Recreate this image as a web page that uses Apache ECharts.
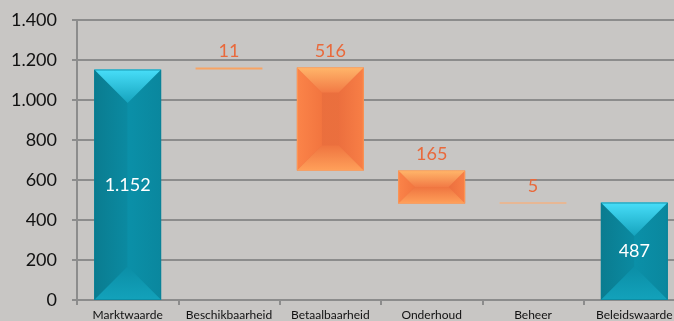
<!DOCTYPE html>
<html>
<head>
<meta charset="utf-8">
<script src="https://cdn.jsdelivr.net/npm/echarts@6/dist/echarts.min.js"></script>
<style>
html,body{margin:0;padding:0;background:#c8c6c4;}
#c{width:674px;height:321px;}
</style>
</head>
<body>
<div id="c"></div>
<script>
var categories = ['Marktwaarde','Beschikbaarheid','Betaalbaarheid','Onderhoud','Beheer','Beleidswaarde'];
var startValue = 1152;
var deltas = [11, -516, -165, 5];
var endValue = 487;
var yTicks = {min: 0, max: 1400, interval: 200};

function nl(v){ return String(Math.round(v)).replace(/\B(?=(\d{3})+(?!\d))/g, '.'); }

// build [index, low, high, kind, labelValue]
var rows = [];
rows.push([0, 0, startValue, 0, startValue]);
var cum = startValue;
deltas.forEach(function(d, i){
  var a = cum, b = cum + d;
  rows.push([i + 1, Math.min(a, b), Math.max(a, b), 1, Math.abs(d)]);
  cum = b;
});
rows.push([categories.length - 1, 0, endValue, 0, endValue]);

function lg(x1,y1,x2,y2,c1,c2){
  return new echarts.graphic.LinearGradient(x1,y1,x2,y2,[{offset:0,color:c1},{offset:1,color:c2}]);
}

var palettes = {
  0: {top:lg(0,0,0,1,'#48def9','#15a3bd'), bottom:lg(0,0,0,1,'#0b8ea6','#13a2bb'),
      left:lg(0,0,1,0,'#0a7c90','#0b8aa1'), right:lg(0,0,1,0,'#0b90a8','#0a879e'),
      center:lg(0,0,1,0,'#0a8aa2','#0b92aa'), edge:'#0a7f95'},
  1: {top:lg(0,0,0,1,'#ffb66a','#f27a45'), bottom:lg(0,0,0,1,'#ef7540','#ffa05a'),
      left:lg(0,0,1,0,'#fb8449','#f2753f'), right:lg(0,0,1,0,'#ec6f3e','#f87f46'),
      center:lg(0,0,1,0,'#ea6e3d','#eb703e'), edge:'#ffa660'}
};

function renderItem(params, api){
  var idx = api.value(0), low = api.value(1), high = api.value(2), kind = api.value(3), lab = api.value(4);
  var pT = api.coord([idx, high]), pB = api.coord([idx, low]);
  var bw = api.size([1, 0])[0] * 0.66;
  var x0 = pT[0] - bw/2, x1 = x0 + bw, y0 = pT[1], y1 = pB[1], h = y1 - y0;
  var pal = palettes[kind];
  var children = [];
  if (h < 4) {
    var hh = Math.max(h, 1.5);
    children.push({type:'rect', shape:{x:x0, y:y0 - (hh - h)/2, width:bw, height:hh},
      style:{fill: lab > 8 ? '#f8a464' : '#f2b285'}});
  } else {
    var d = kind === 0 ? Math.min(bw/2, h/2) : Math.min(25, bw/2, h/2);
    children.push({type:'rect', shape:{x:x0, y:y0, width:bw, height:h}, style:{fill:pal.center}});
    children.push({type:'polygon', shape:{points:[[x0,y0],[x0+d,y0+d],[x0+d,y1-d],[x0,y1]]}, style:{fill:pal.left}});
    children.push({type:'polygon', shape:{points:[[x1,y0],[x1-d,y0+d],[x1-d,y1-d],[x1,y1]]}, style:{fill:pal.right}});
    children.push({type:'polygon', shape:{points:[[x0,y0],[x1,y0],[x1-d,y0+d],[x0+d,y0+d]]}, style:{fill:pal.top}});
    children.push({type:'polygon', shape:{points:[[x0,y1],[x1,y1],[x1-d,y1-d],[x0+d,y1-d]]}, style:{fill:pal.bottom}});
    children.push({type:'rect', shape:{x:x0+0.5, y:y0+0.5, width:bw-1, height:h-1},
      style:{fill:'none', stroke:pal.edge, lineWidth:1, opacity:0.6}});
  }
  if (kind === 0) {
    children.push({type:'text', style:{text:nl(lab), x:(x0+x1)/2, y:(y0+y1)/2, align:'center', verticalAlign:'middle',
      fill:'#ffffff', fontSize:18, fontFamily:'Lato, "Open Sans", sans-serif'}});
  } else {
    children.push({type:'text', style:{text:nl(lab), x:(x0+x1)/2, y:y0 - 7, align:'center', verticalAlign:'bottom',
      fill:'#e9693b', fontSize:18, fontFamily:'Lato, "Open Sans", sans-serif'}});
  }
  return {type:'group', children:children};
}

var chart = echarts.init(document.getElementById('c'), null, {renderer:'canvas'});
chart.setOption({
  backgroundColor:'#c8c6c4',
  animation:false,
  grid:{left:77, right:-11, top:20, bottom:21, containLabel:false, outerBoundsMode:'none'},
  xAxis:{
    type:'category', data:categories,
    axisLine:{show:true, lineStyle:{color:'#8c8c8c', width:2}},
    axisTick:{show:true, length:5, lineStyle:{color:'#8c8c8c', width:2}},
    axisLabel:{color:'#111', fontSize:12, margin:9, interval:0, fontFamily:'Lato, "Open Sans", sans-serif'},
    splitLine:{show:false}
  },
  yAxis:{
    type:'value', min:yTicks.min, max:yTicks.max, interval:yTicks.interval,
    axisLine:{show:true, lineStyle:{color:'#8c8c8c', width:2}},
    axisTick:{show:true, length:5, lineStyle:{color:'#8c8c8c', width:2}},
    axisLabel:{color:'#111', fontSize:18, margin:20, formatter:nl, fontFamily:'Lato, "Open Sans", sans-serif'},
    splitLine:{show:true, lineStyle:{color:'#8c8c8c', width:2}}
  },
  series:[{
    type:'custom', renderItem:renderItem, data:rows,
    encode:{x:0, y:[1,2]}, clip:false
  }]
});
</script>
</body>
</html>
